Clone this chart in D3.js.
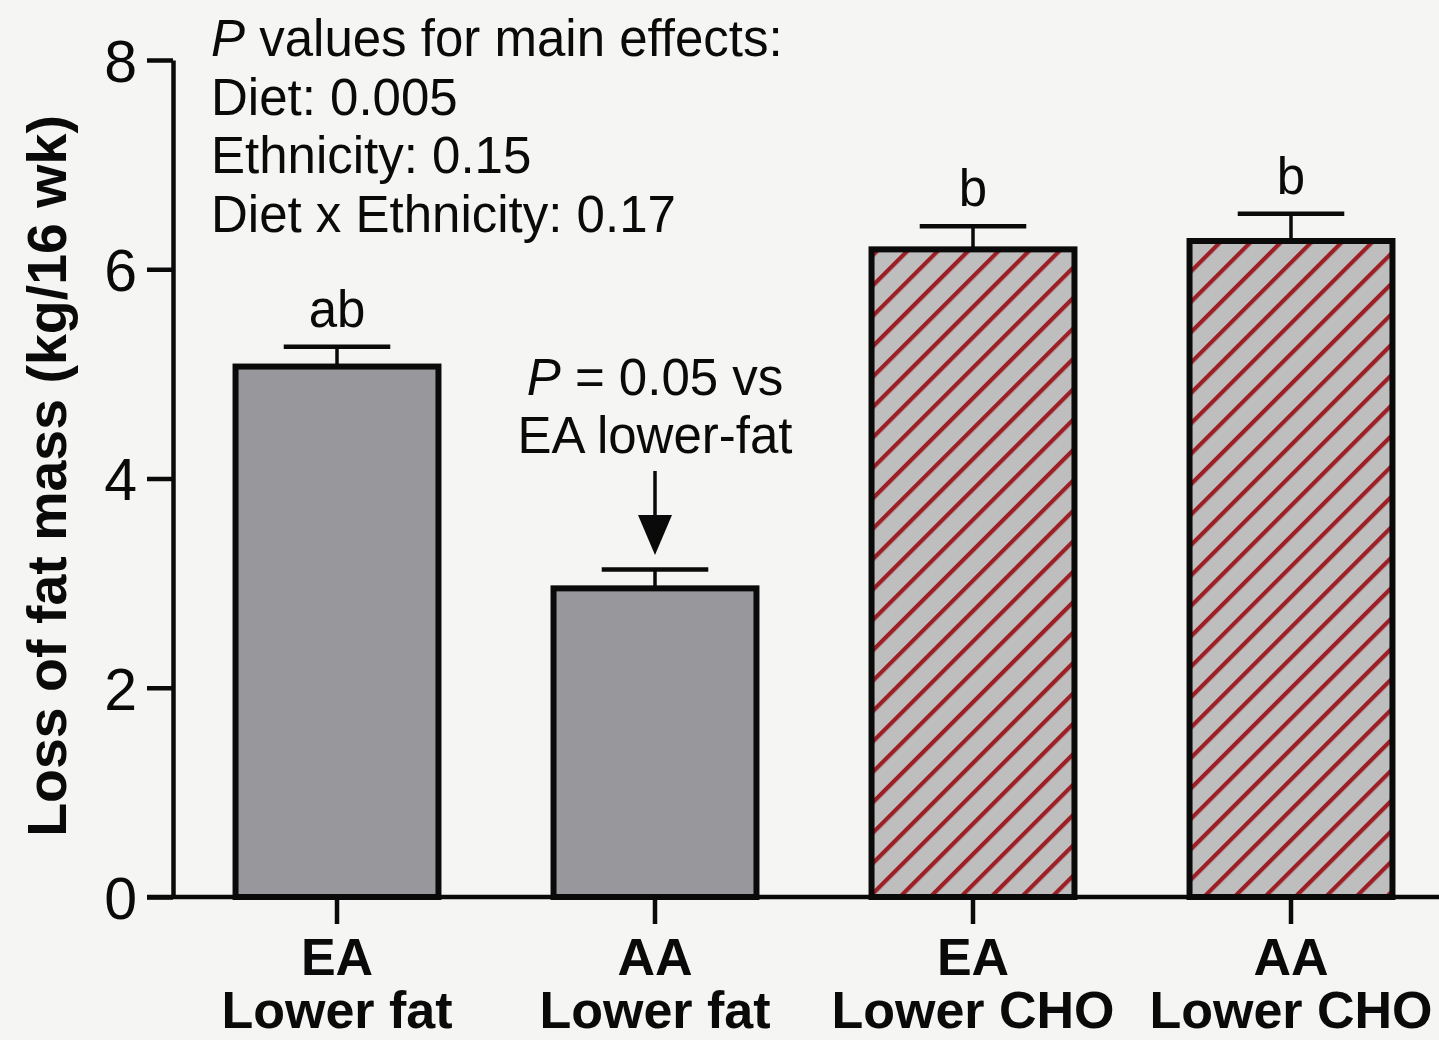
<!DOCTYPE html>
<html>
<head>
<meta charset="utf-8">
<script src="https://cdn.jsdelivr.net/npm/d3@7"></script>
<style>
  html, body { margin: 0; padding: 0; background: #f5f5f3; }
  svg { display: block; }
  text { font-family: "Liberation Sans", Arial, Helvetica, sans-serif; fill: #0a0a0a; }
</style>
</head>
<body>
<svg id="chart" width="1439" height="1040"></svg>
<script>
// Groups: ethnicity (line 1) and diet (line 2)
const groupEthnicity = ["EA", "AA", "EA", "AA"];
const groupDiet = ["Lower fat", "Lower fat", "Lower CHO", "Lower CHO"];
// Mean loss of fat mass (kg/16 wk) and SEM
const meanLoss = [5.07, 2.95, 6.19, 6.27];
const semLoss = [0.19, 0.18, 0.22, 0.26];
// Significance letters above bars
const sigLetters = ["ab", "", "b", "b"];
// Y-axis ticks
const yTicks = [0, 2, 4, 6, 8];
// Main-effects text block
const pValueLines = [
  { label: "P", rest: " values for main effects:" },
  { label: "", rest: "Diet: 0.005" },
  { label: "", rest: "Ethnicity: 0.15" },
  { label: "", rest: "Diet x Ethnicity: 0.17" }
];
const pairNote = ["= 0.05 vs", "EA lower-fat"];

const svg = d3.select("#chart");
const W = 1439, H = 1040;
const ink = "#0a0a0a";

svg.append("rect").attr("width", W).attr("height", H).attr("fill", "#f5f5f3");

const ids = groupEthnicity.map((d, i) => i);
const x = d3.scaleBand().domain(ids).range([178, 1450])
  .paddingInner(0.343).paddingOuter(0.1715);
const y = d3.scaleLinear().domain([0, 8]).range([897, 60]);

// Diagonal hatch for the lower-CHO bars
const defs = svg.append("defs");
const pat = defs.append("pattern")
  .attr("id", "hatch")
  .attr("patternUnits", "userSpaceOnUse")
  .attr("width", 21.5).attr("height", 21.5)
  .attr("patternTransform", "rotate(45)");
pat.append("rect").attr("width", 21.5).attr("height", 21.5).attr("fill", "#bfbebf");
pat.append("rect").attr("x", 0).attr("y", 0).attr("width", 4.2).attr("height", 21.5)
  .attr("fill", "#9c1f25");

const fillFor = i => groupDiet[i] === "Lower CHO" ? "url(#hatch)" : "#97979c";

// Error bars (upper half only), drawn before bars
const eb = svg.append("g");
ids.forEach(i => {
  const cx = x(i) + x.bandwidth() / 2;
  const top = y(meanLoss[i] + semLoss[i]);
  const capW = x.bandwidth() * 0.51;
  eb.append("line").attr("x1", cx).attr("x2", cx)
    .attr("y1", y(meanLoss[i])).attr("y2", top)
    .attr("stroke", ink).attr("stroke-width", 3.5);
  eb.append("line").attr("x1", cx - capW / 2).attr("x2", cx + capW / 2)
    .attr("y1", top).attr("y2", top)
    .attr("stroke", ink).attr("stroke-width", 4.5);
});

// Bars
svg.append("g").selectAll("rect").data(ids).join("rect")
  .attr("x", i => x(i) + 3)
  .attr("width", x.bandwidth() - 6)
  .attr("y", i => y(meanLoss[i]))
  .attr("height", i => y(0) - y(meanLoss[i]))
  .attr("fill", fillFor)
  .attr("stroke", ink)
  .attr("stroke-width", 6);

// Significance letters
svg.append("g").selectAll("text").data(ids.filter(i => sigLetters[i])).join("text")
  .attr("x", i => x(i) + x.bandwidth() / 2)
  .attr("y", i => y(meanLoss[i] + semLoss[i]) - 20)
  .attr("text-anchor", "middle")
  .attr("font-size", 51)
  .text(i => sigLetters[i]);

// Y axis
const yAxis = svg.append("g").attr("transform", "translate(173,0)")
  .call(d3.axisLeft(y).tickValues(yTicks).tickSize(26).tickSizeOuter(0).tickPadding(10));
yAxis.select(".domain").attr("stroke", ink).attr("stroke-width", 4.5);
yAxis.selectAll(".tick line").attr("stroke", ink).attr("stroke-width", 4.5);
yAxis.selectAll(".tick text")
  .attr("font-size", 59).attr("fill", ink)
  .attr("font-family", "'Liberation Sans', Arial, Helvetica, sans-serif")
  .attr("dy", "0.36em");

// X axis
const xAxis = svg.append("g").attr("transform", "translate(0,897)")
  .call(d3.axisBottom(x).tickSize(27).tickSizeOuter(0).tickFormat(""));
xAxis.select(".domain").remove();
xAxis.selectAll(".tick line").attr("stroke", ink).attr("stroke-width", 4.5);
svg.append("line").attr("x1", 147).attr("x2", W)
  .attr("y1", y(0)).attr("y2", y(0))
  .attr("stroke", ink).attr("stroke-width", 4.5);

// X category labels
const xl = svg.append("g").attr("font-weight", "bold").attr("font-size", 52).attr("text-anchor", "middle");
ids.forEach(i => {
  const cx = x(i) + x.bandwidth() / 2;
  xl.append("text").attr("x", cx).attr("y", 975).text(groupEthnicity[i]);
  xl.append("text").attr("x", cx).attr("y", 1028).text(groupDiet[i]);
});

// Y title
svg.append("text")
  .attr("transform", "translate(66,476) rotate(-90)")
  .attr("text-anchor", "middle")
  .attr("font-weight", "bold")
  .attr("font-size", 55.5)
  .text("Loss of fat mass (kg/16 wk)");

// Main-effects P values
const pv = svg.append("g").attr("font-size", 51);
pValueLines.forEach((ln, k) => {
  const t = pv.append("text").attr("x", 211).attr("y", 56 + k * 58.5);
  if (ln.label) t.append("tspan").attr("font-style", "italic").text(ln.label);
  t.append("tspan").text(ln.rest);
});

// Pairwise note with arrow over AA lower-fat bar
const ax = x(1) + x.bandwidth() / 2;
const note = svg.append("g").attr("font-size", 51).attr("text-anchor", "middle");
const t1 = note.append("text").attr("x", ax).attr("y", 395);
t1.append("tspan").attr("font-style", "italic").text("P");
t1.append("tspan").text(" " + pairNote[0]);
note.append("text").attr("x", ax).attr("y", 453).text(pairNote[1]);
svg.append("line").attr("x1", ax).attr("x2", ax).attr("y1", 471).attr("y2", 520)
  .attr("stroke", ink).attr("stroke-width", 3.5);
svg.append("path")
  .attr("d", `M${ax - 17},515 L${ax + 17},515 L${ax},555 Z`)
  .attr("fill", ink);
</script>
</body>
</html>
